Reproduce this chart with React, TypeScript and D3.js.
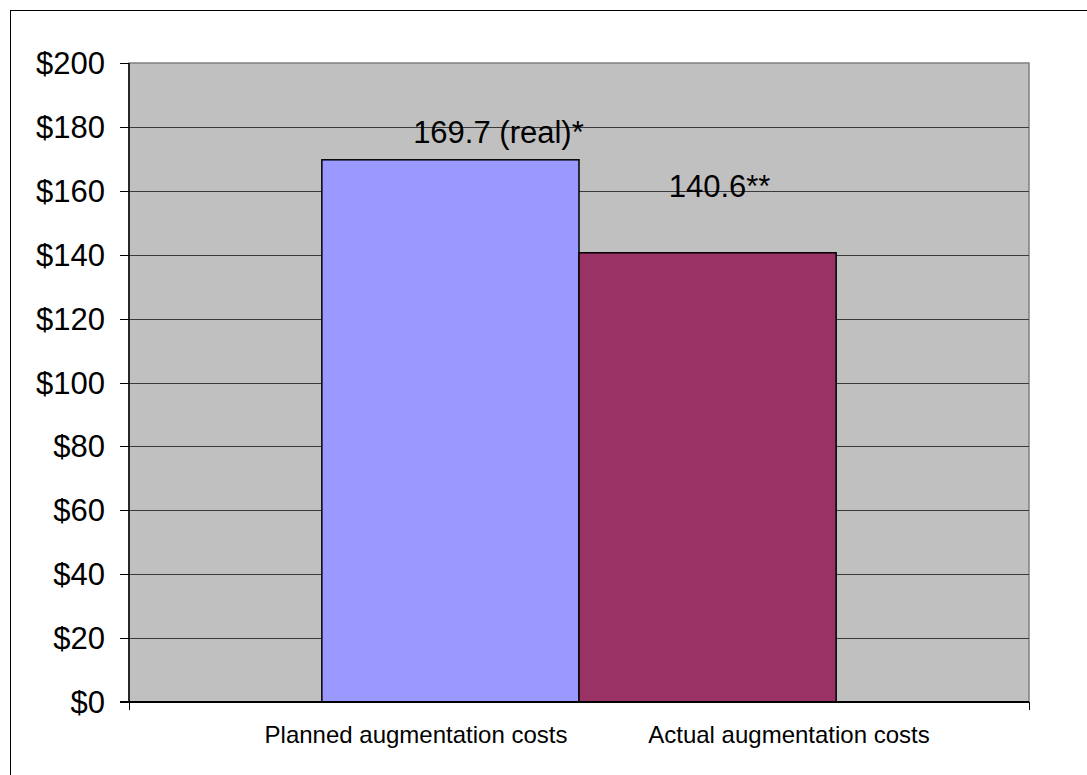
import React from "react";
import * as d3 from "d3";

// Chart data
const category = "Augmentation costs";
const seriesNames = ["Planned augmentation costs", "Actual augmentation costs"];
const seriesValues = [169.7, 140.6];
const valueLabels = ["169.7 (real)*", "140.6**"];
const seriesColors = ["#9999FF", "#993366"];
const yTicks = [0, 20, 40, 60, 80, 100, 120, 140, 160, 180, 200];

// Layout
const W = 1087;
const H = 775;
const plot = { left: 129, right: 1029, top: 63, bottom: 702 };
const gapWidth = 1.5; // gap between groups relative to one bar
// hand-placed label positions (dx from bar centre, dy above bar top)
const labelDx = [48, 12];
const labelDy = [17, 56];
const axisLabelCenters = [416, 789];
const font = "'Liberation Sans', Arial, sans-serif";

export default function App() {
  const y = d3.scaleLinear().domain([0, 200]).range([plot.bottom, plot.top]);
  const plotW = plot.right - plot.left;
  const groupW = (plotW * seriesNames.length) / (seriesNames.length + gapWidth);
  const groupStart = plot.left + (plotW - groupW) / 2;
  const x = d3
    .scaleBand<string>()
    .domain(seriesNames)
    .range([groupStart, groupStart + groupW])
    .padding(0);

  return (
    <svg
      width={W}
      height={H}
      style={{ position: "fixed", left: 0, top: 0, background: "#fff" }}
      fontFamily={font}
    >
      {/* outer chart border */}
      <rect x={10.5} y={10.5} width={W + 20} height={H + 20} fill="#fff" stroke="#000" strokeWidth={1} />

      {/* plot area */}
      <rect
        x={plot.left}
        y={plot.top}
        width={plotW}
        height={plot.bottom - plot.top}
        fill="#C0C0C0"
        stroke="#808080"
        strokeWidth={1.5}
      />

      {/* gridlines */}
      {yTicks.filter((t) => t > 0 && t < 200).map((t) => (
        <line
          key={"g" + t}
          x1={plot.left}
          x2={plot.right}
          y1={Math.round(y(t)) + 0.5}
          y2={Math.round(y(t)) + 0.5}
          stroke="#3a3a3a"
          strokeWidth={1}
        />
      ))}

      {/* bars */}
      {seriesNames.map((s, i) => (
        <rect
          key={s}
          x={x(s)!}
          y={y(seriesValues[i])}
          width={x.bandwidth()}
          height={plot.bottom - y(seriesValues[i])}
          fill={seriesColors[i]}
          stroke="#000"
          strokeWidth={1.5}
        />
      ))}

      {/* value labels */}
      {seriesNames.map((s, i) => (
        <text
          key={"v" + s}
          x={x(s)! + x.bandwidth() / 2 + labelDx[i]}
          y={y(seriesValues[i]) - labelDy[i]}
          textAnchor="middle"
          fontSize={31}
          fill="#000"
        >
          {valueLabels[i]}
        </text>
      ))}

      {/* y axis */}
      <line x1={plot.left} x2={plot.left} y1={plot.top} y2={plot.bottom} stroke="#000" strokeWidth={1.5} />
      {yTicks.map((t) => (
        <g key={"t" + t}>
          <line x1={plot.left - 9} x2={plot.left} y1={Math.round(y(t)) + 0.5} y2={Math.round(y(t)) + 0.5} stroke="#000" />
          <text x={105} y={y(t)} dy="0.358em" textAnchor="end" fontSize={31} fill="#000">
            {"$" + t}
          </text>
        </g>
      ))}

      {/* x axis */}
      <line x1={plot.left - 9} x2={plot.right} y1={plot.bottom} y2={plot.bottom} stroke="#000" strokeWidth={2} />
      {[plot.left, plot.right].map((px, i) => (
        <line key={"xt" + i} x1={px + 0.5} x2={px + 0.5} y1={plot.bottom} y2={plot.bottom + 8} stroke="#000" />
      ))}
      {seriesNames.map((s, i) => (
        <text key={"x" + s} x={axisLabelCenters[i]} y={743} textAnchor="middle" fontSize={24} fill="#000">
          {s}
        </text>
      ))}
      <title>{category}</title>
    </svg>
  );
}
